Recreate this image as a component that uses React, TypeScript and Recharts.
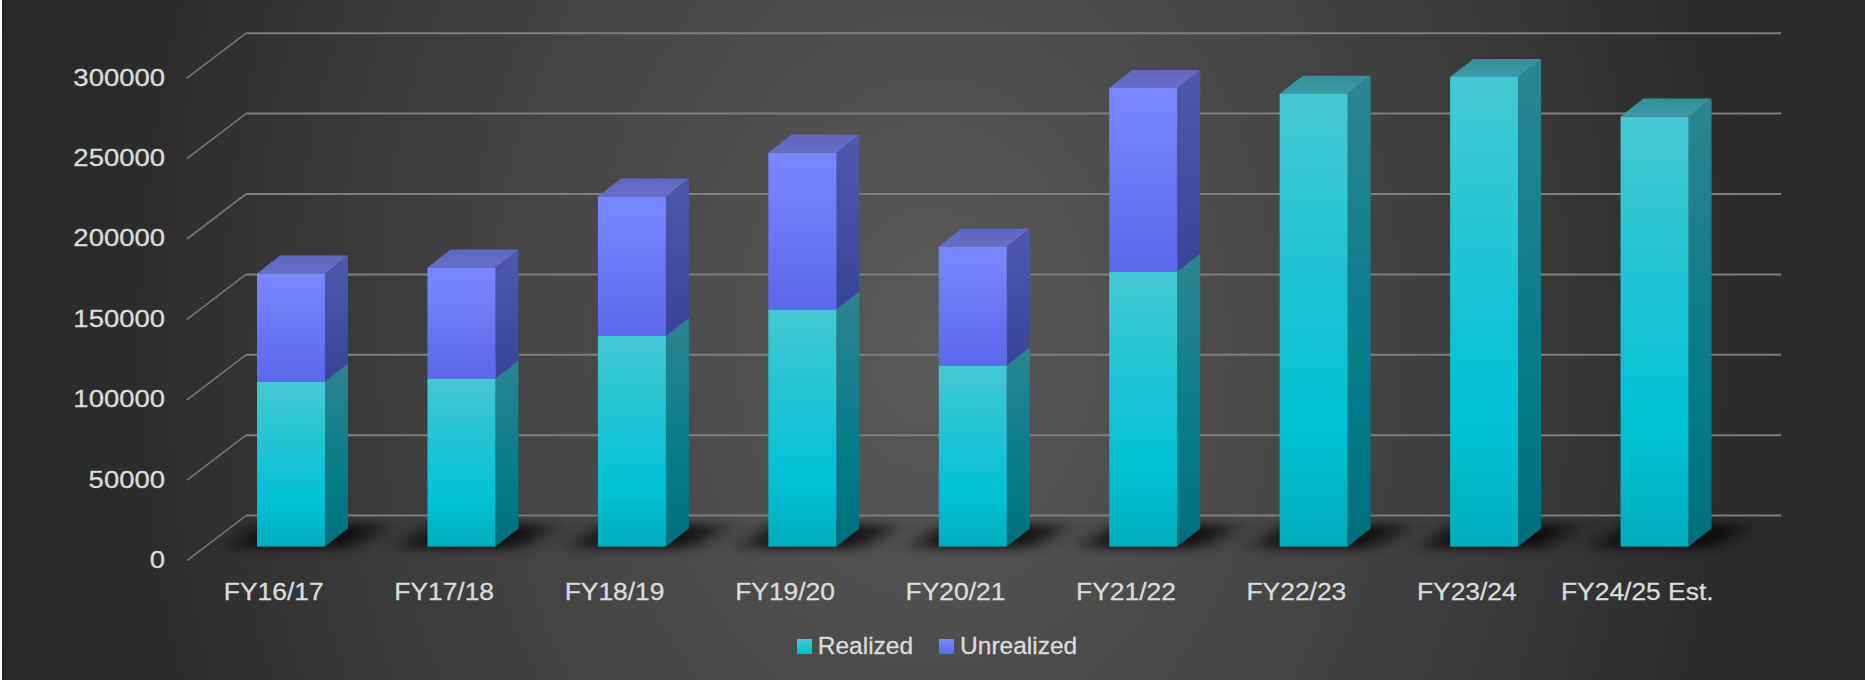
import React from "react"
import { Bar, CartesianGrid, ComposedChart, Legend, XAxis, YAxis } from "recharts"

const categories = ["FY16/17", "FY17/18", "FY18/19", "FY19/20", "FY20/21", "FY21/22", "FY22/23", "FY23/24", "FY24/25 Est."]
const realized = [102600, 104500, 131000, 147400, 112600, 171000, 281700, 292100, 267400]
const unrealized = [67200, 69000, 86700, 97500, 74000, 114200, null, null, null]
const yTicks = [0, 50000, 100000, 150000, 200000, 250000, 300000]

const data = categories.map((name, i) => ({ name, realized: realized[i], unrealized: unrealized[i] }))

const FONT = "'Liberation Sans', sans-serif"
const TEXT = "#dcdcdc"
const DX = 23
const DY = 18

function Block({ x, y, width, height, tone, floor }: any) {
  if (!height || height <= 0) return null
  const r = x + width
  const b = y + height
  return (
    <g>
      {floor && (
        <polygon
          points={`${x - 26},${b + 2} ${x + 4},${b - 22} ${r + 60},${b - 22} ${r + 24},${b + 2}`}
          fill="#000"
          opacity={0.75}
          filter="url(#floorBlur)"
        />
      )}
      <polygon points={`${r},${y} ${r + DX},${y - DY} ${r + DX},${b - DY} ${r},${b}`} fill={`url(#${tone}Side)`} />
      <polygon points={`${x},${y} ${x + DX},${y - DY} ${r + DX},${y - DY} ${r},${y}`} fill={`url(#${tone}Top)`} />
      <rect x={x} y={y} width={width} height={height} fill={`url(#${tone}Front)`} />
    </g>
  )
}

function gridLine(props: any) {
  const { y1 } = props
  return (
    <g key={props.key}>
      <line x1={187} y1={y1 + 14} x2={246} y2={y1 - 31} stroke="#767676" strokeWidth={1.6} />
      <line x1={246} y1={y1 - 31} x2={1781} y2={y1 - 31} stroke="#7f7f7f" strokeWidth={2} />
    </g>
  )
}

function YTick({ y, payload }: any) {
  return (
    <text
      x={165}
      y={y + 14}
      dy={7.5}
      textAnchor="end"
      fill={TEXT}
      stroke={TEXT}
      strokeWidth={0.3}
      fontFamily={FONT}
      fontSize={24}
      transform={`translate(${165 * -0.145} 0) scale(1.145 1)`}
    >
      {payload.value}
    </text>
  )
}

function XTick({ x, payload }: any) {
  const cx = x - 17.5
  return (
    <text
      x={cx}
      y={600}
      textAnchor="middle"
      fill={TEXT}
      stroke={TEXT}
      strokeWidth={0.3}
      fontFamily={FONT}
      fontSize={24}
      transform={`translate(${cx * -0.1} 0) scale(1.1 1)`}
    >
      {payload.value}
    </text>
  )
}

const swatches: Record<string, string> = {
  realized: "linear-gradient(#45c8d3, #00c1d5)",
  unrealized: "linear-gradient(#7a88ff, #5a68ea)",
}

function LegendRow({ payload }: any) {
  return (
    <div
      style={{
        display: "flex",
        justifyContent: "center",
        gap: 26,
        paddingLeft: 9,
        fontFamily: FONT,
        fontSize: 24.5,
        color: TEXT,
        WebkitTextStroke: "0.3px #dcdcdc",
      }}
    >
      {payload.map((p: any) => (
        <div key={p.dataKey} style={{ display: "flex", alignItems: "center", gap: 6 }}>
          <span style={{ width: 15, height: 15, background: swatches[p.dataKey] }} />
          {p.value}
        </div>
      ))}
    </div>
  )
}

export default function App() {
  return (
    <div
      style={{
        position: "absolute",
        left: 0,
        top: 0,
        width: 1865,
        height: 680,
        background: "radial-gradient(ellipse 55% 200% at 50% 50%, #5a5a5a 0%, #434343 42%, #2c2c2c 78%, #262626 100%)",
      }}
    >
      {/* light strip down the left edge of the source image */}
      <div style={{ position: "absolute", left: 0, top: 0, width: 2, height: 680, background: "#fff" }} />
      <ComposedChart width={1865} height={680} data={data} margin={{ top: 64.2, right: 125, bottom: 73.4, left: 0 }}>
        <defs>
          <filter id="floorBlur" x="-40%" y="-150%" width="180%" height="400%">
            <feGaussianBlur stdDeviation="14 5" />
          </filter>
          <linearGradient id="realizedFront" x1="0" y1="0" x2="0" y2="1">
            <stop offset="0" stopColor="#45c8d3" />
            <stop offset="0.72" stopColor="#00c1d5" />
            <stop offset="1" stopColor="#00adbc" />
          </linearGradient>
          <linearGradient id="realizedSide" x1="0" y1="0" x2="0" y2="1">
            <stop offset="0" stopColor="#2b8591" />
            <stop offset="0.72" stopColor="#007a88" />
            <stop offset="1" stopColor="#006e7c" />
          </linearGradient>
          <linearGradient id="realizedTop" x1="0" y1="0" x2="0" y2="1">
            <stop offset="0" stopColor="#35919c" />
            <stop offset="1" stopColor="#3a9aa5" />
          </linearGradient>
          <linearGradient id="unrealizedFront" x1="0" y1="0" x2="0" y2="1">
            <stop offset="0" stopColor="#7a88ff" />
            <stop offset="1" stopColor="#5a68ea" />
          </linearGradient>
          <linearGradient id="unrealizedSide" x1="0" y1="0" x2="0" y2="1">
            <stop offset="0" stopColor="#4e59ae" />
            <stop offset="1" stopColor="#38439a" />
          </linearGradient>
          <linearGradient id="unrealizedTop" x1="0" y1="0" x2="0" y2="1">
            <stop offset="0" stopColor="#5f68c0" />
            <stop offset="1" stopColor="#666ec6" />
          </linearGradient>
        </defs>
        <CartesianGrid vertical={false} horizontal={gridLine} syncWithTicks />
        <XAxis dataKey="name" axisLine={false} tickLine={false} height={60} interval={0} tick={<XTick />} />
        <YAxis width={206} domain={[0, 300000]} ticks={yTicks} axisLine={false} tickLine={false} tick={<YTick />} />
        <Legend verticalAlign="middle" content={<LegendRow />} wrapperStyle={{ top: 632, left: 0, width: 1865 }} />
        <Bar dataKey="realized" name="Realized" stackId="a" barSize={68} isAnimationActive={false} shape={(p: any) => <Block {...p} tone="realized" floor />} />
        <Bar dataKey="unrealized" name="Unrealized" stackId="a" barSize={68} isAnimationActive={false} shape={(p: any) => <Block {...p} tone="unrealized" />} />
      </ComposedChart>
    </div>
  )
}
